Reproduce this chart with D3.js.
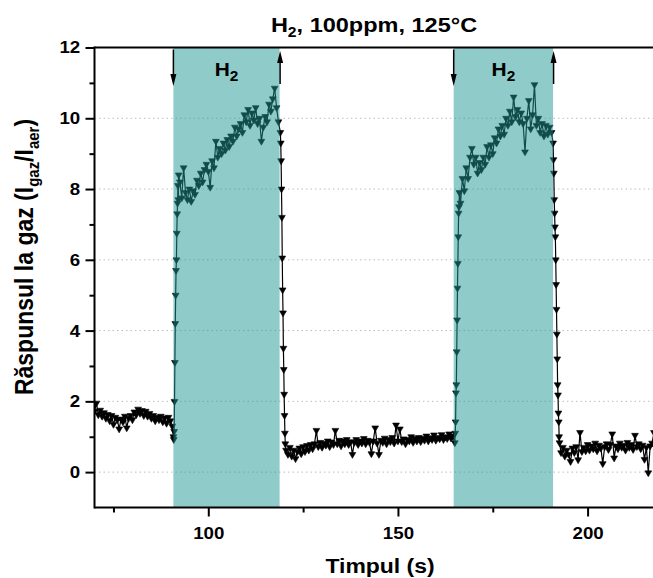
<!DOCTYPE html>
<html>
  <head>
    <script src="https://d3js.org/d3.v7.min.js" charset="utf-8"></script>
    <meta charset="UTF-8">
    <title>H2 raspuns</title>
    <style>
      body { margin: 0; background: #fff; }
      svg { display: block; }
      text { font-family: "Liberation Sans", Arial, sans-serif; font-weight: bold; fill: #000; }
    </style>
  </head>
  <body>
    <svg class="chart"></svg>
    <script type="text/javascript">

     var width = 653,
         height = 578;

     // axis ticks
     var xTicks = [100, 150, 200],
         xMinor = [75, 125, 175],
         yTicks = [0, 2, 4, 6, 8, 10, 12],
         yMinor = [1, 3, 5, 7, 9, 11],
         yGrid = [0, 2, 4, 6, 8, 10];

     // H2 exposure windows (s)
     var bandStart = [90.8, 164.7],
         bandEnd = [118.8, 190.9];

     // response: [start (s), step (s), values]
     var base1 = [1.72, 1.95, 1.62, 1.75, 1.58, 1.68, 1.52, 1.63, 1.45, 1.60,
                  1.35, 1.55, 1.48, 1.22, 1.50, 1.42, 1.58, 1.25, 1.52, 1.60,
                  1.48, 1.70, 1.62, 1.78, 1.66, 1.74, 1.60, 1.72, 1.58, 1.66,
                  1.52, 1.60, 1.45, 1.55, 1.48, 1.58, 1.42, 1.53, 1.38, 1.55,
                  1.45, 1.30];
     var rise1 = [1.0, 0.92, 1.15, 2.0, 3.1, 4.2, 5.0, 5.7, 6.0, 6.75, 7.3, 7.6, 8.1, 7.7, 8.4];
     var expo1 = [8.2, 7.75, 8.6, 7.9, 7.7, 8.0, 7.65, 7.95, 7.85, 8.25,
                  8.1, 8.45, 8.2, 8.55, 8.7, 8.5, 8.05, 8.8, 8.6, 9.35,
                  8.9, 9.15, 9.0, 9.3, 9.1, 9.4, 9.2, 9.5, 9.35, 9.75,
                  9.5, 9.7, 9.85, 9.6, 10.1, 9.9, 10.25, 9.8, 10.15, 9.95,
                  10.3, 9.85, 10.0, 9.35, 9.75, 10.05, 9.9, 10.4, 10.2, 10.55,
                  10.85, 10.3, 9.9];
     var fall1 = [9.6, 9.3, 8.8, 8.0, 7.2, 6.05, 5.15, 4.5, 3.5, 2.9, 2.2, 1.6, 1.1, 0.8];
     var base2 = [0.62, 0.50, 0.70, 0.45, 0.62, 0.38, 0.58, 0.68, 0.52, 0.72,
                  0.58, 0.75, 0.62, 0.78, 0.66, 0.80, 1.18, 0.72, 0.84, 0.70,
                  0.82, 0.76, 0.88, 0.72, 0.85, 0.78, 1.18, 0.80, 0.90, 0.74,
                  0.88, 0.80, 0.92, 0.78, 0.86, 0.50, 0.84, 0.92, 0.78, 0.88,
                  0.82, 0.95, 0.80, 0.90, 0.84, 0.52, 0.88, 1.25, 0.82, 0.50,
                  0.90, 0.84, 0.96, 0.80, 0.92, 0.86, 0.98, 0.82, 1.33, 0.88,
                  1.22, 0.86, 0.94, 0.80, 0.92, 0.88, 1.00, 0.84, 0.95, 0.88,
                  0.98, 0.86, 0.96, 0.90, 1.02, 0.88, 0.97, 0.92, 1.05, 0.90,
                  0.98, 0.94, 1.06, 0.92, 1.00, 0.95, 1.08, 0.96, 1.02];
     var rise2 = [0.83, 1.1, 1.42, 2.24, 2.47, 3.4, 4.3, 5.2, 5.9, 6.65, 7.32, 7.5, 7.9];
     var expo2 = [7.6, 8.3, 7.95, 8.6, 8.3, 8.9, 9.15, 8.7, 8.9, 8.45,
                  8.75, 8.55, 8.9, 8.7, 9.2, 8.9, 9.25, 9.0, 9.45, 9.3,
                  9.7, 9.5, 9.8, 9.55, 10.0, 9.8, 10.2, 9.9, 10.6, 10.05,
                  10.25, 9.9, 10.15, 9.85, 9.05, 10.0, 10.5, 9.7, 10.1, 10.95,
                  9.8, 10.0, 9.6, 9.85, 9.5, 9.8, 9.55, 9.75, 9.6];
     var fall2 = [9.3, 8.83, 8.45, 7.7, 7.32, 6.93, 6.65, 6.0, 5.3, 4.6, 3.9, 3.2, 2.47, 2.18, 1.67, 1.42, 1.0, 0.83];
     var base3 = [0.55, 0.70, 0.45, 0.62, 0.50, 0.30, 0.68, 0.55, 0.72, 0.35,
                  1.12, 0.58, 0.70, 0.60, 0.78, 0.62, 0.74, 0.66, 0.82, 0.60,
                  0.76, 0.68, 0.24, 0.72, 0.80, 0.64, 0.78, 1.08, 0.40, 0.74,
                  0.66, 0.82, 0.70, 0.76, 0.62, 0.84, 0.70, 0.78, 0.64, 1.04,
                  0.72, 0.80, 0.66, 0.76, 0.36, 0.70, -0.02, 0.74, 0.82, 1.12,
                  0.70, 0.78, 0.66, 0.80, 0.72];

     var segments = [
         [70, 0.5, base1], [90.8, 0.1, rise1], [92.5, 0.5, expo1], [119.0, 0.1, fall1],
         [120.5, 0.5, base2], [165.0, 0.1, rise2], [166.5, 0.5, expo2], [190.9, 0.1, fall2],
         [193, 0.5, base3]
     ];

     var points = [];
     segments.forEach(function(s) {
         s[2].forEach(function(v, i) {
             points.push({t: +(s[0] + i * s[1]).toFixed(2), v: v});
         });
     });

     var pLeft = 94.5, pRight = 653, pTop = 47.5, pBottom = 507.5;

     var x = d3.scaleLinear().domain([70, 220]).range([pLeft, pLeft + 150 * 3.793]);
     var y = d3.scaleLinear().domain([-1, 12]).range([pBottom, pTop]);

     var chart = d3.select(".chart")
                   .attr("width", width)
                   .attr("height", height);

     chart.append("rect").attr("width", width).attr("height", height).attr("fill", "#fff");

     chart.append("clipPath").attr("id", "plotclip")
          .append("rect")
          .attr("x", pLeft).attr("y", pTop)
          .attr("width", pRight - pLeft).attr("height", pBottom - pTop);

     // dotted grid
     chart.append("g").attr("class", "grid")
          .selectAll("line")
          .data(yGrid)
          .enter().append("line")
          .attr("x1", pLeft).attr("x2", pRight)
          .attr("y1", function(d) { return y(d); })
          .attr("y2", function(d) { return y(d); })
          .attr("stroke", "#bdbdbd")
          .attr("stroke-width", 1)
          .attr("stroke-dasharray", "1.5,3");

     // data
     var plot = chart.append("g").attr("clip-path", "url(#plotclip)");

     plot.append("path")
         .datum(points)
         .attr("fill", "none")
         .attr("stroke", "#000")
         .attr("stroke-width", 1.2)
         .attr("d", d3.line()
                      .x(function(d) { return x(d.t); })
                      .y(function(d) { return y(d.v); }));

     var tri = d3.symbol().type(d3.symbolTriangle).size(20);
     plot.append("g")
         .selectAll("path")
         .data(points)
         .enter().append("path")
         .attr("d", tri)
         .attr("fill", "#000")
         .attr("stroke", "#000")
         .attr("stroke-width", 0.6)
         .attr("transform", function(d) {
             return "translate(" + x(d.t) + "," + y(d.v) + ") rotate(180)";
         });

     // H2 windows, laid over the data
     chart.append("g")
          .selectAll("rect")
          .data(bandStart)
          .enter().append("rect")
          .attr("x", function(d) { return x(d); })
          .attr("y", pTop)
          .attr("width", function(d, i) { return x(bandEnd[i]) - x(d); })
          .attr("height", pBottom - pTop)
          .attr("fill", "rgb(31,151,147)")
          .attr("fill-opacity", 0.5);

     // axes
     var axisX = chart.append("g").attr("transform", "translate(0," + pBottom + ")");
     axisX.call(d3.axisBottom(x).tickValues(xTicks).tickSize(9).tickPadding(10).tickFormat(d3.format("d")));
     axisX.append("g").call(d3.axisBottom(x).tickValues(xMinor).tickSize(5).tickFormat(""));

     var axisY = chart.append("g").attr("transform", "translate(" + pLeft + ",0)");
     axisY.call(d3.axisLeft(y).tickValues(yTicks).tickSize(9).tickPadding(4).tickFormat(d3.format("d")));
     axisY.append("g").call(d3.axisLeft(y).tickValues(yMinor).tickSize(5).tickFormat(""));

     chart.selectAll(".domain").remove();
     chart.selectAll(".tick line").attr("stroke", "#000").attr("stroke-width", 2);
     chart.selectAll(".tick text")
          .attr("font-size", 17)
          .attr("font-family", "Liberation Sans, Arial, sans-serif")
          .attr("font-weight", "bold")
          .attr("transform", "scale(1.1,1)");

     chart.append("line").attr("x1", pLeft).attr("x2", pRight).attr("y1", pBottom).attr("y2", pBottom)
          .attr("stroke", "#000").attr("stroke-width", 2);
     chart.append("line").attr("x1", pLeft).attr("x2", pRight).attr("y1", pTop).attr("y2", pTop)
          .attr("stroke", "#000").attr("stroke-width", 2);
     chart.append("line").attr("x1", pLeft).attr("x2", pLeft).attr("y1", pTop - 1).attr("y2", pBottom + 1)
          .attr("stroke", "#000").attr("stroke-width", 2);

     // arrows at the edges of each window
     var arrows = chart.append("g");
     bandStart.forEach(function(s, i) {
         var xa = x(s), xb = x(bandEnd[i]) + 0.5;
         arrows.append("line").attr("x1", xa).attr("x2", xa).attr("y1", pTop + 2).attr("y2", 76)
               .attr("stroke", "#000").attr("stroke-width", 1.5);
         arrows.append("path")
               .attr("d", "M" + (xa - 3) + ",74 L" + (xa + 3) + ",74 L" + xa + ",86 Z")
               .attr("fill", "#000");
         arrows.append("line").attr("x1", xb).attr("x2", xb).attr("y1", 84).attr("y2", 62)
               .attr("stroke", "#000").attr("stroke-width", 1.5);
         arrows.append("path")
               .attr("d", "M" + (xb - 3) + ",63 L" + (xb + 3) + ",63 L" + xb + ",51 Z")
               .attr("fill", "#000");

         var lab = chart.append("text")
               .attr("transform", "translate(" + ((xa + x(bandEnd[i])) / 2) + ",76) scale(1.1,1)")
               .attr("text-anchor", "middle")
               .attr("font-size", 19);
         lab.append("tspan").text("H");
         lab.append("tspan").attr("dy", 5).attr("font-size", 14).text("2");
     });

     // titles
     var title = chart.append("text")
          .attr("transform", "translate(374,32) scale(1.12,1)")
          .attr("text-anchor", "middle")
          .attr("font-size", 21);
     title.append("tspan").text("H");
     title.append("tspan").attr("dy", 5).attr("font-size", 14).text("2");
     title.append("tspan").attr("dy", -5).text(", 100ppm, 125\u00B0C");

     chart.append("text")
          .attr("transform", "translate(380,573) scale(1.12,1)")
          .attr("text-anchor", "middle")
          .attr("font-size", 20.5)
          .text("Timpul (s)");

     var ytitle = chart.append("text")
          .attr("transform", "translate(33,257) scale(1.12,1) rotate(-90)")
          .attr("text-anchor", "middle")
          .attr("font-size", 23);
     ytitle.append("tspan").text("R\u0103spunsul la gaz (I");
     ytitle.append("tspan").attr("dy", 5).attr("font-size", 15).text("gaz");
     ytitle.append("tspan").attr("dy", -5).text("/I");
     ytitle.append("tspan").attr("dy", 5).attr("font-size", 15).text("aer");
     ytitle.append("tspan").attr("dy", -5).text(")");

    </script>
  </body>
</html>
